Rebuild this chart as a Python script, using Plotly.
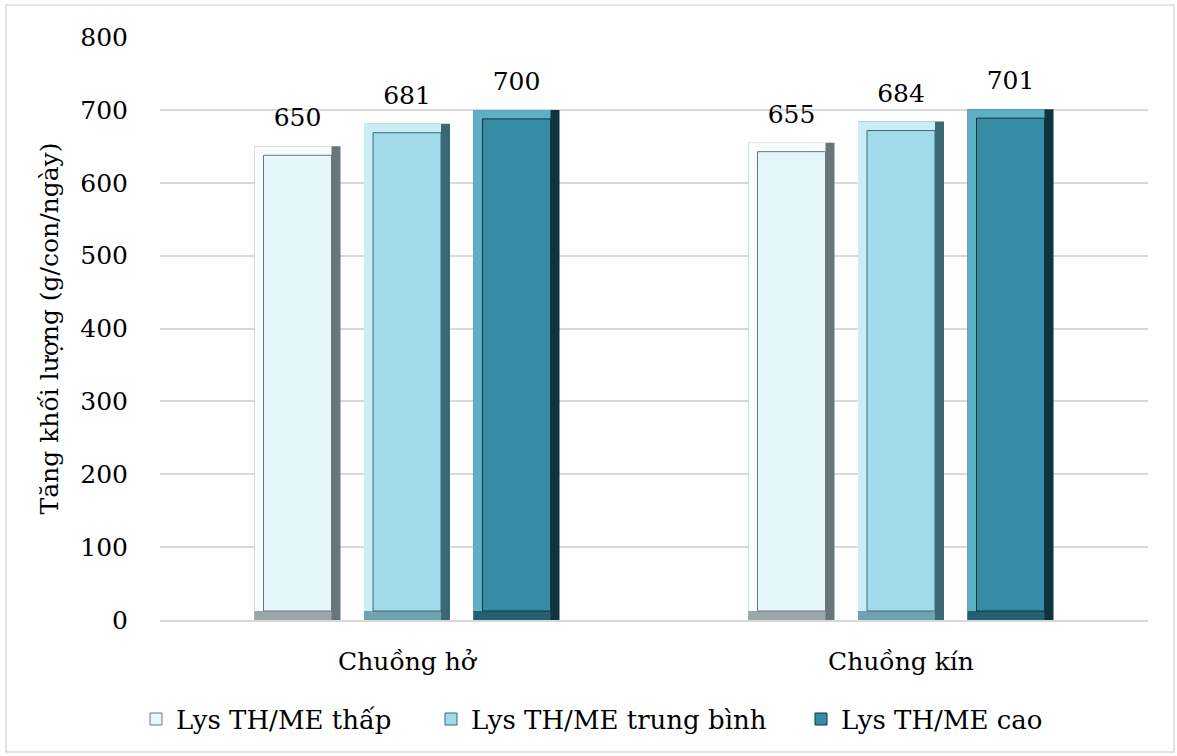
import plotly.graph_objects as go

# Daily weight gain by housing type and Lys TH/ME level
categories = ["Chuồng hở", "Chuồng kín"]
series_names = ["Lys TH/ME thấp", "Lys TH/ME trung bình", "Lys TH/ME cao"]
gain_low = [650, 655]
gain_mid = [681, 684]
gain_high = [700, 701]
y_ticks = [0, 100, 200, 300, 400, 500, 600, 700, 800]

series_values = [gain_low, gain_mid, gain_high]

# bevel palette per series: (face, highlight, bottom edge, right edge)
palettes = [
    ("#E6F7FC", "#F8FDFF", "#9AA6AA", "#66767B"),
    ("#A1DAE9", "#CAEEF8", "#6FA3B1", "#3A6874"),
    ("#378BA4", "#5DAFC6", "#245F70", "#0F3440"),
]

FONT = "DejaVu Serif"
FS = 25
W, H = 1177, 756
M_L, M_R, M_T, M_B = 160, 29, 37, 136
plot_w = W - M_L - M_R
plot_h = H - M_T - M_B
y_max = 800

cat_px = plot_w / len(categories)
bar_w = 86 / cat_px          # bar width in category units
slot = 109.5 / cat_px        # centre-to-centre spacing within a group
bev_x = 9 / cat_px           # bevel thickness horizontally
bev_y = 9 * y_max / plot_h   # bevel thickness in value units
label_pad = 11 * y_max / plot_h

# left edge (px) of each legend entry along the bottom row
legend_left_px = [136, 431, 801]
legend_ids = ["legend", "legend2", "legend3"]

fig = go.Figure()
x_idx = list(range(len(categories)))
n = len(categories)

for k, (name, vals, (face, light, bottom, dark)) in enumerate(zip(series_names, series_values, palettes)):
    off = (k - 1) * slot - bar_w / 2
    # outer body (right shadow edge)
    fig.add_trace(go.Bar(
        x=x_idx, y=vals, width=bar_w, offset=off,
        marker=dict(color=dark, line=dict(width=0)),
        showlegend=False, hoverinfo="skip"))
    # bottom edge
    fig.add_trace(go.Bar(
        x=x_idx, y=[bev_y] * n, width=bar_w - bev_x, offset=off,
        marker=dict(color=bottom, line=dict(width=0)),
        showlegend=False, hoverinfo="skip"))
    # highlight on top and left edge
    fig.add_trace(go.Bar(
        x=x_idx, y=[v - bev_y for v in vals], base=[bev_y] * n,
        width=bar_w - bev_x, offset=off,
        marker=dict(color=light, line=dict(width=0)),
        showlegend=False, hoverinfo="skip"))
    # flat face
    fig.add_trace(go.Bar(
        x=x_idx, y=[v - 2 * bev_y for v in vals], base=[bev_y] * n,
        width=bar_w - 2 * bev_x, offset=off + bev_x,
        marker=dict(color=face, line=dict(width=1, color=dark)),
        name=name, showlegend=True, legend=legend_ids[k], hoverinfo="skip"))
    # value labels above each bar
    fig.add_trace(go.Bar(
        x=x_idx, y=[label_pad] * n, base=vals,
        width=bar_w, offset=off,
        marker=dict(color="rgba(0,0,0,0)", line=dict(width=0)),
        text=[str(v) for v in vals], textposition="outside",
        textfont=dict(family=FONT, size=FS),
        cliponaxis=False,
        showlegend=False, hoverinfo="skip"))

legend_style = dict(orientation="h", xanchor="left", y=-0.17, yanchor="middle",
                    bgcolor="rgba(0,0,0,0)",
                    font=dict(family=FONT, size=26, color="black"))
legends = {lid: dict(legend_style, x=(px - M_L) / plot_w)
           for lid, px in zip(legend_ids, legend_left_px)}

fig.update_layout(
    width=W, height=H,
    barmode="overlay",
    margin=dict(l=M_L, r=M_R, t=M_T, b=M_B),
    paper_bgcolor="white", plot_bgcolor="white",
    font=dict(family=FONT, size=FS, color="black"),
    showlegend=True,
    **legends,
    xaxis=dict(
        tickmode="array", tickvals=x_idx, ticktext=categories,
        range=[-0.5, n - 0.5],
        showgrid=False, showline=True, linecolor="#D9D9D9", linewidth=1.5,
        ticks="outside", ticklen=18, tickcolor="rgba(0,0,0,0)", zeroline=False,
        tickfont=dict(family=FONT, size=FS)),
    yaxis=dict(
        range=[0, y_max], tickmode="array", tickvals=y_ticks,
        showgrid=True, gridcolor="#D9D9D9", gridwidth=1.5,
        zeroline=False, showline=False,
        ticks="outside", ticklen=26, tickcolor="rgba(0,0,0,0)",
        tickfont=dict(family=FONT, size=FS),
        title=dict(text="Tăng khối lượng (g/con/ngày)", standoff=14,
                   font=dict(family=FONT, size=FS))),
)

# light frame around the whole chart
fig.add_shape(type="rect", xref="paper", yref="paper",
              x0=(6 - M_L) / plot_w, x1=(W - 3 - M_L) / plot_w,
              y0=-(H - 4 - M_T - plot_h) / plot_h, y1=1 + (M_T - 5) / plot_h,
              line=dict(color="#D9D9D9", width=1.5), fillcolor="rgba(0,0,0,0)",
              layer="below")

fig.write_html("out.html")
